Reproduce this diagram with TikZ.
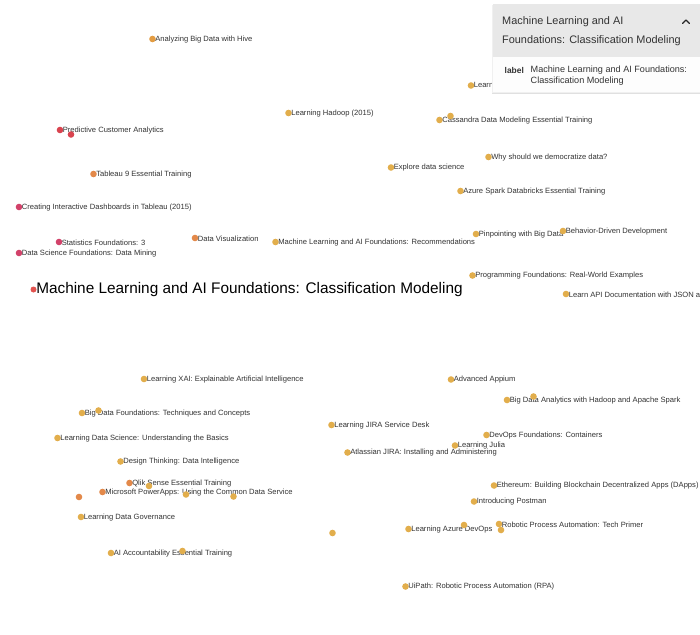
\documentclass[tikz,border=0pt]{standalone}
\usepackage{fontspec}
\setmainfont{Liberation Sans}
\definecolor{gold}{HTML}{E2AE4C}
\definecolor{ogold}{HTML}{E39C42}
\definecolor{orng}{HTML}{E3894A}
\definecolor{redd}{HTML}{D9444F}
\definecolor{crim}{HTML}{D2426A}
\definecolor{salm}{HTML}{E2534F}
\definecolor{txt}{HTML}{333333}
\definecolor{hdr}{HTML}{E8E8E8}
\tikzset{
  dotn/.style={circle, inner sep=0pt, minimum size=6.6pt, draw=none},
  lab/.style={anchor=west, inner sep=0pt, text=txt, font=\fontsize{7.6}{8.5}\selectfont},
  biglab/.style={anchor=west, inner sep=0pt, text=black, font=\fontsize{15.35}{17}\selectfont},
  ptext/.style={anchor=west, inner sep=0pt, text=txt},
}
\newcommand\dl[5]{%
  \node[dotn, fill=#4] (#1) at (#2,#3) {};
  \node[lab] (#1-l) at ([xshift=2.6pt,yshift=-0.3pt]#1.center) {#5};}
\newcommand\dd[4]{\node[dotn, fill=#4] (#1) at (#2,#3) {};}
\begin{document}
\begin{tikzpicture}[x=1pt,y=-1pt]
\useasboundingbox (0,0) rectangle (700,634);
\clip (0,0) rectangle (700,634);
\fill[white] (0,0) rectangle (700,634);
% upper cluster
\dl{hive}{152.5}{39}{ogold}{Analyzing Big Data with Hive}
\dl{hadoop}{288.5}{113}{gold}{Learning Hadoop (2015)}
\dl{pred}{60}{130}{redd}{Predictive Customer Analytics}
\dd{predb}{71}{134.5}{redd}
\dl{tab}{93.5}{174}{orng}{Tableau 9 Essential Training}
\dl{dash}{19}{207}{crim}{Creating Interactive Dashboards in Tableau (2015)}
\dl{stat}{59}{242}{crim}{Statistics Foundations: 3}
\dl{mine}{19}{253}{crim}{Data Science Foundations: Data Mining}
\dl{vis}{195}{238}{orng}{Data Visualization}
\dl{rec}{275.5}{242}{gold}{Machine Learning and AI Foundations: Recommendations}
\node[dotn, fill=salm, minimum size=6pt] (cls) at (33.5,289.5) {};
\node[biglab] (cls-l) at ([xshift=2.6pt,yshift=-0.5pt]cls.center) {Machine Learning and AI Foundations: Classification Modeling};
\dl{nosql}{471}{85.5}{gold}{Learning NoSQL Databases}
\dl{cass}{439.5}{120}{gold}{Cassandra Data Modeling Essential Training}
\dd{cassb}{450.5}{116}{gold}
\dl{why}{488.5}{157}{gold}{Why should we democratize data?}
\dl{expl}{391}{167.5}{gold}{Explore data science}
\dl{azsp}{460.5}{191}{gold}{Azure Spark Databricks Essential Training}
\dl{pin}{476}{234}{gold}{Pinpointing with Big Data}
\dl{bdd}{563}{231}{gold}{Behavior-Driven Development}
\dl{prog}{472.5}{275.5}{gold}{Programming Foundations: Real-World Examples}
\dl{api}{566}{294}{gold}{Learn API Documentation with JSON a}
% lower cluster
\dl{xai}{144}{379}{gold}{Learning XAI: Explainable Artificial Intelligence}
\dl{bdf}{82}{413}{gold}{Big Data Foundations: Techniques and Concepts}
\dd{bdfb}{98.5}{410.5}{gold}
\dl{lds}{57.5}{438}{gold}{Learning Data Science: Understanding the Basics}
\dl{dt}{120.5}{461.5}{gold}{Design Thinking: Data Intelligence}
\dl{qlik}{129.5}{483}{orng}{Qlik Sense Essential Training}
\dd{qlikb}{149}{486}{gold}
\dl{pa}{102.5}{492}{orng}{Microsoft PowerApps: Using the Common Data Service}
\dd{pab}{186}{494.5}{gold}
\dd{pac}{233.5}{496.5}{gold}
\dd{lone}{79}{497}{orng}
\dl{gov}{81}{517}{gold}{Learning Data Governance}
\dl{acc}{111}{553}{gold}{AI Accountability Essential Training}
\dd{accb}{182.5}{551}{gold}
\dd{lone2}{332.5}{533}{gold}
\dl{app}{451}{379.5}{gold}{Advanced Appium}
\dl{bda}{507}{400}{gold}{Big Data Analytics with Hadoop and Apache Spark}
\dd{bdab}{533.5}{396.5}{gold}
\dl{jsd}{331.5}{425}{gold}{Learning JIRA Service Desk}
\dl{dev}{486.5}{435}{gold}{DevOps Foundations: Containers}
\dl{jul}{455}{445.5}{gold}{Learning Julia}
\dl{jira}{347.5}{452.5}{gold}{Atlassian JIRA: Installing and Administering}
\dl{eth}{494}{485.5}{gold}{Ethereum: Building Blockchain Decentralized Apps (DApps)}
\dl{post}{474}{501.5}{gold}{Introducing Postman}
\dl{azd}{408.5}{529}{gold}{Learning Azure DevOps}
\dd{azdb}{464}{525}{gold}
\dl{rpa}{499}{524}{gold}{Robotic Process Automation: Tech Primer}
\dd{rpab}{501}{530}{gold}
\dl{ui}{405.5}{586.5}{gold}{UiPath: Robotic Process Automation (RPA)}
% info panel
\fill[black!12] (492,5) rectangle (702,94);
\fill[black!6] (492,5) rectangle (701,93);
\fill[hdr] (493,4) rectangle (700,57);
\fill[white, opacity=0.93] (493,57) rectangle (700,92);
\node[ptext, font=\fontsize{10.9}{12}\selectfont] (ph1) at (502,22) {Machine Learning and AI};
\node[ptext, font=\fontsize{10.9}{12}\selectfont] (ph2) at (502,41) {Foundations: Classification Modeling};
\draw[line width=1.1pt, black!85, line cap=round, line join=round] (682.5,23.5) -- (686,20) -- (689.5,23.5);
\node[ptext, font=\bfseries\fontsize{8.4}{10}\selectfont] (pl) at (504.5,70) {label};
\node[ptext, font=\fontsize{9.1}{10}\selectfont] (pv1) at (530.5,70) {Machine Learning and AI Foundations:};
\node[ptext, font=\fontsize{9.1}{10}\selectfont] (pv2) at (530.5,81) {Classification Modeling};
\end{tikzpicture}
\end{document}
